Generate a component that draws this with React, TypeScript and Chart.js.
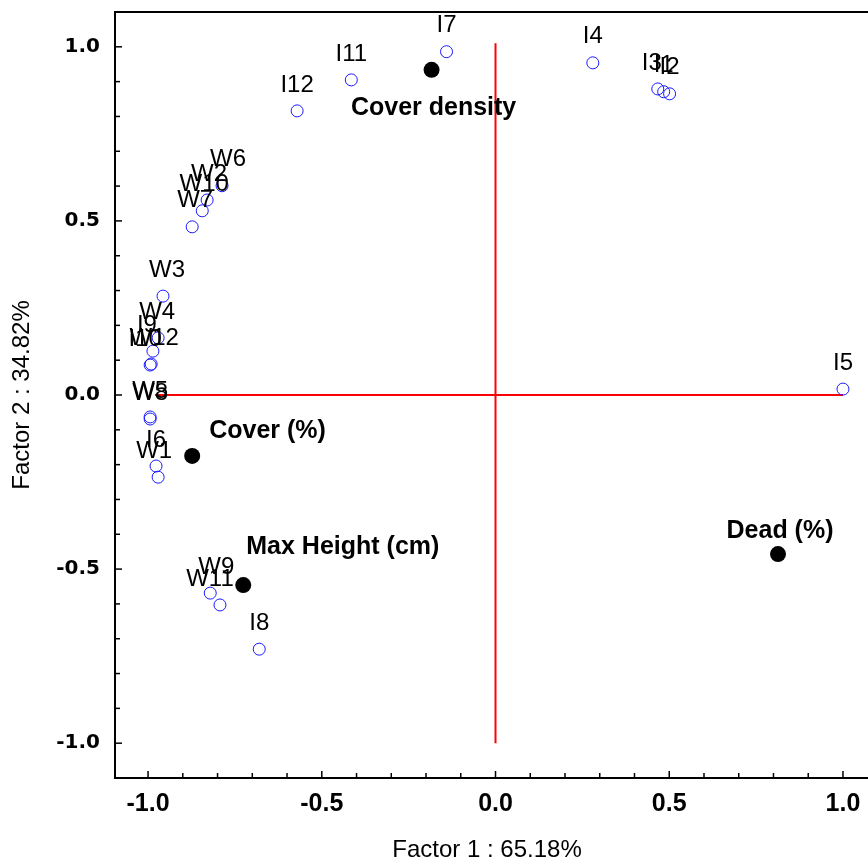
import React, { useEffect, useRef } from "react";
import { Chart, registerables } from "chart.js";

Chart.register(...registerables);

// Cases (open blue circles)
const caseLabels = ["I7", "I4", "I3", "I1", "I2", "I11", "I12", "W6", "W2", "W10", "W7", "W3", "W4", "I9", "I10", "W12", "W5", "W8", "I6", "W1", "W9", "W11", "I8", "I5"];
const caseX = [-0.141, 0.28, 0.467, 0.484, 0.501, -0.415, -0.571, -0.787, -0.83, -0.844, -0.873, -0.957, -0.971, -0.986, -0.994, -0.991, -0.994, -0.994, -0.977, -0.971, -0.821, -0.793, -0.68, 1.0];
const caseY = [0.986, 0.954, 0.879, 0.871, 0.865, 0.905, 0.816, 0.601, 0.56, 0.529, 0.483, 0.284, 0.164, 0.126, 0.086, 0.089, -0.063, -0.069, -0.204, -0.236, -0.569, -0.603, -0.73, 0.017];

// Variables (filled black dots)
const varLabels = ["Cover density", "Cover (%)", "Max Height (cm)", "Dead (%)"];
const varX = [-0.184, -0.873, -0.726, 0.813];
const varY = [0.934, -0.175, -0.546, -0.457];

// Label placement (pixel offsets from the mark, alignment)
const caseLabelDx = [0, 0, -6, 0, 0, 0, 0, 6, 2, 2, 3, 4, -1, -6, -5, 3, 0, 0, 0, -4, 6, -10, 0, 0];
const varLabelOffsets = [
  { dx: 2, dy: 38, align: "center" },
  { dx: 17, dy: -25, align: "left" },
  { dx: 3, dy: -38, align: "left" },
  { dx: 2, dy: -23, align: "center" },
];

// Axes
const xTicks = [-1.0, -0.5, 0.0, 0.5, 1.0];
const yTicks = [-1.0, -0.5, 0.0, 0.5, 1.0];
const xTitle = "Factor 1 : 65.18%";
const yTitle = "Factor 2 : 34.82%";
const crossH = [{ x: -0.98, y: 0 }, { x: 1.0, y: 0 }];
const crossV = [{ x: 0, y: -1.0 }, { x: 0, y: 1.01 }];

export default function App() {
  const ref = useRef<HTMLCanvasElement | null>(null);

  useEffect(() => {
    document.body.style.margin = "0";
    const canvas = ref.current!;
    const casePts = caseX.map((x, i) => ({ x, y: caseY[i] }));
    const varPts = varX.map((x, i) => ({ x, y: varY[i] }));

    const framePlugin = {
      id: "frame",
      beforeDatasetsDraw(chart: any) {
        const { ctx, chartArea: a, scales } = chart;
        ctx.save();
        ctx.strokeStyle = "#000";
        ctx.lineWidth = 2;
        ctx.strokeRect(a.left + 1, a.top, chart.width + 10 - a.left, a.bottom - a.top);
        ctx.lineWidth = 1.5;
        for (let i = -11; i <= 11; i++) {
          const v = i / 10;
          const major = i % 5 === 0;
          const len = major ? 7 : 5;
          const px = scales.x.getPixelForValue(v);
          if (px >= a.left + 2 && px <= chart.width) {
            ctx.beginPath();
            ctx.moveTo(px, a.bottom);
            ctx.lineTo(px, a.bottom - len);
            ctx.stroke();
          }
          const py = scales.y.getPixelForValue(v);
          if (py >= a.top + 2 && py <= a.bottom - 2) {
            ctx.beginPath();
            ctx.moveTo(a.left + 1, py);
            ctx.lineTo(a.left + 1 + len, py);
            ctx.stroke();
          }
        }
        ctx.restore();
      },
      afterDatasetDraw(chart: any, args: any) {
        const { ctx } = chart;
        const meta = args.meta;
        if (args.index === 2) {
          ctx.save();
          ctx.fillStyle = "#000";
          ctx.font = "24px 'Liberation Sans', Arial, sans-serif";
          ctx.textAlign = "center";
          ctx.textBaseline = "middle";
          meta.data.forEach((el: any, i: number) => {
            ctx.fillText(caseLabels[i], el.x + caseLabelDx[i], el.y - 26);
          });
          ctx.restore();
        }
        if (args.index === 3) {
          ctx.save();
          ctx.fillStyle = "#000";
          ctx.font = "bold 25px 'Liberation Sans', Arial, sans-serif";
          ctx.textBaseline = "middle";
          meta.data.forEach((el: any, i: number) => {
            const o = varLabelOffsets[i];
            ctx.textAlign = o.align;
            ctx.fillText(varLabels[i], el.x + o.dx, el.y + o.dy);
          });
          ctx.restore();
        }
      },
    };

    const zeroPad = (s: any) => {
      s.paddingTop = 0;
      s.paddingBottom = 0;
      s.paddingLeft = 0;
      s.paddingRight = 0;
    };

    const chart = new Chart(canvas, {
      type: "scatter",
      data: {
        datasets: [
          {
            type: "line",
            data: crossH,
            borderColor: "#ff0000",
            borderWidth: 2,
            pointRadius: 0,
            order: 4,
          } as any,
          {
            type: "line",
            data: crossV,
            borderColor: "#ff0000",
            borderWidth: 2,
            pointRadius: 0,
            order: 3,
          } as any,
          {
            data: casePts,
            pointStyle: "circle",
            pointRadius: 6,
            pointBorderWidth: 1,
            borderColor: "#1a1aff",
            backgroundColor: "rgba(255,255,255,0)",
            order: 2,
          },
          {
            data: varPts,
            pointStyle: "circle",
            pointRadius: 8,
            pointBorderWidth: 0,
            borderColor: "#000",
            backgroundColor: "#000",
            order: 1,
          },
        ],
      },
      options: {
        responsive: false,
        animation: false,
        events: [],
        layout: { padding: { top: 12, left: 0, right: 0, bottom: 0 } },
        plugins: { legend: { display: false }, tooltip: { enabled: false } },
        scales: {
          x: {
            type: "linear",
            min: -1.098,
            max: 1.049,
            afterBuildTicks: (s: any) => {
              s.ticks = xTicks.map((v) => ({ value: v }));
            },
            afterFit: (s: any) => {
              s.height = 87;
              zeroPad(s);
            },
            grid: { display: false, drawTicks: false },
            border: { display: false },
            ticks: {
              color: "#000",
              padding: 11,
              font: { family: "'Liberation Sans', Arial, sans-serif", size: 25, weight: "bold" },
              callback: (v: any) => Number(v).toFixed(1),
            },
            title: {
              display: true,
              text: xTitle,
              color: "#000",
              font: { family: "'Liberation Sans', Arial, sans-serif", size: 24 },
              padding: { top: 0, bottom: 0 },
            },
          },
          y: {
            type: "linear",
            min: -1.1,
            max: 1.1,
            afterBuildTicks: (s: any) => {
              s.ticks = yTicks.map((v) => ({ value: v }));
            },
            afterFit: (s: any) => {
              s.width = 114;
              zeroPad(s);
            },
            grid: { display: false, drawTicks: false },
            border: { display: false },
            ticks: {
              color: "#000",
              padding: 14,
              font: { family: "'DejaVu Sans', sans-serif", size: 20, weight: "bold" },
              callback: (v: any) => Number(v).toFixed(1),
            },
            title: {
              display: true,
              text: yTitle,
              color: "#000",
              font: { family: "'Liberation Sans', Arial, sans-serif", size: 24 },
              padding: { top: 8, bottom: 0 },
            },
          },
        },
      },
      plugins: [framePlugin],
    } as any);

    return () => chart.destroy();
  }, []);

  return (
    <div style={{ width: 868, height: 865 }}>
      <canvas ref={ref} width={868} height={865} style={{ display: "block" }} />
    </div>
  );
}
